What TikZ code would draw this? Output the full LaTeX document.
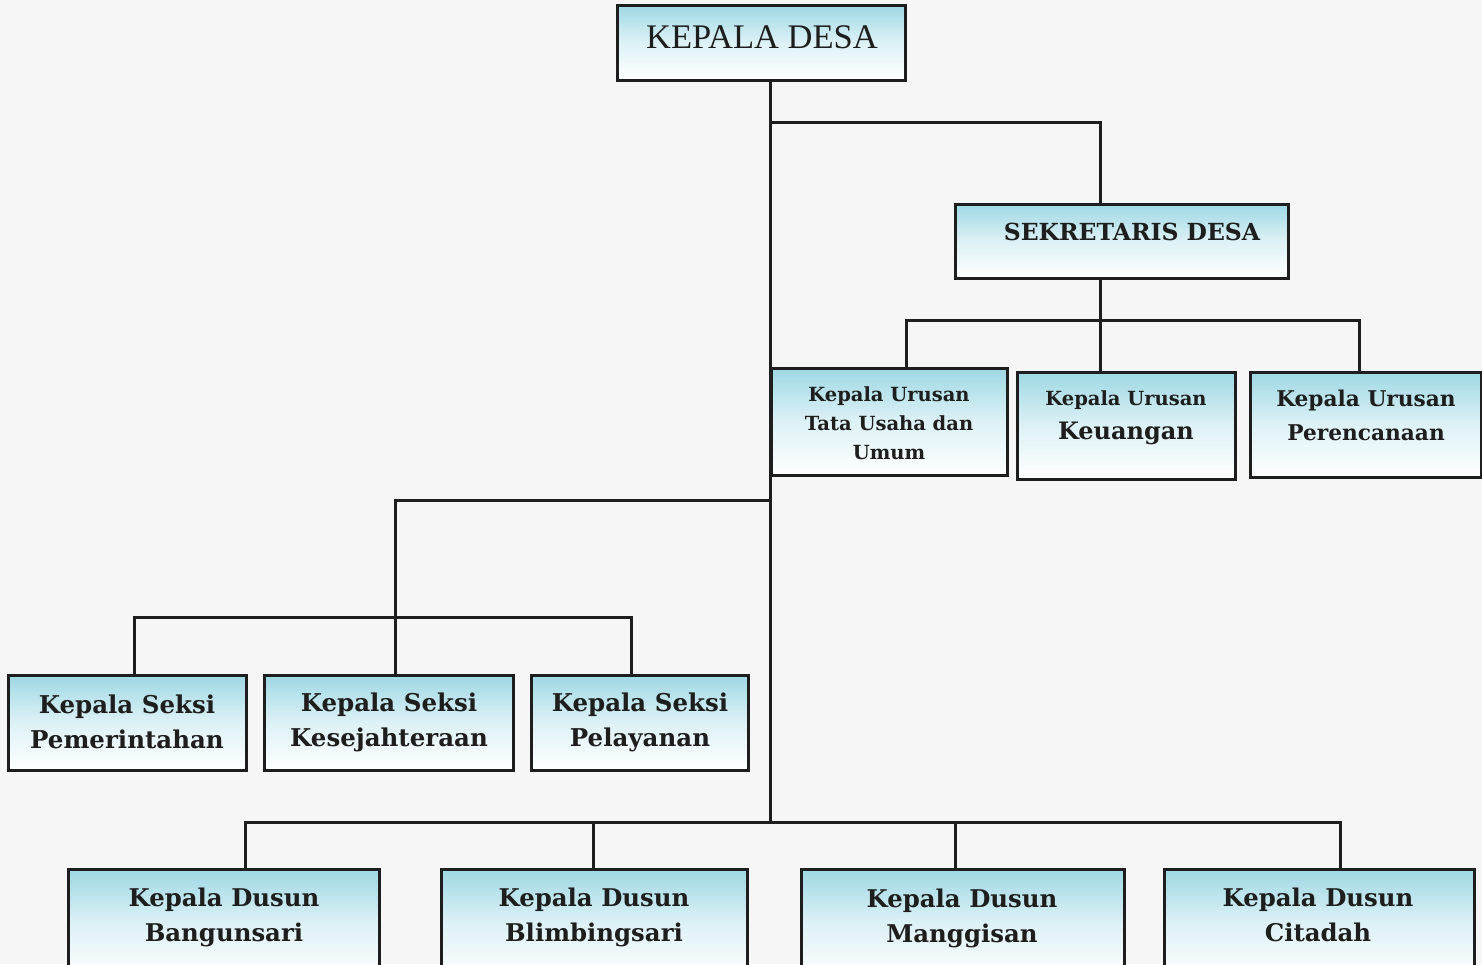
\documentclass[tikz,border=0pt]{standalone}
\usepackage{fontspec}
\setmainfont{DejaVu Serif}
\newfontfamily\tms{Liberation Serif}
\definecolor{paper}{RGB}{246,246,246}
\definecolor{boxcyan}{RGB}{158,216,228}
\definecolor{ink}{RGB}{30,30,30}
\begin{document}
\begin{tikzpicture}[x=1pt,y=-1pt,
  box/.style={draw=ink, line width=3pt, shade, top color=boxcyan, bottom color=white,
    middle color=boxcyan!35!white, inner sep=0pt},
  lbl/.style={inner sep=0pt, align=center, text=ink},
  conn/.style={draw=ink, line width=3pt, line join=miter}]
\useasboundingbox (0,0) rectangle (1482,964);
\fill[paper] (0,0) rectangle (1482,964);
\clip (0,0) rectangle (1482,964);

% boxes
\node[box, minimum width=288pt, minimum height=75pt] (kd) at (761,42.5) {};
\node[box, minimum width=333pt, minimum height=74pt] (sek) at (1121.5,241) {};
\node[box, minimum width=236pt, minimum height=107pt] (ut) at (889,421.5) {};
\node[box, minimum width=218pt, minimum height=107pt] (uk) at (1126,425.5) {};
\node[box, minimum width=231pt, minimum height=105pt] (up) at (1365.5,424.5) {};
\node[box, minimum width=238pt, minimum height=95pt] (sp) at (127,722.5) {};
\node[box, minimum width=249pt, minimum height=95pt] (sk) at (388.5,722.5) {};
\node[box, minimum width=217pt, minimum height=95pt] (sl) at (639.5,722.5) {};
\node[box, minimum width=311pt, minimum height=109pt] (db) at (223.5,923.5) {};
\node[box, minimum width=306pt, minimum height=109pt] (dbl) at (594,923.5) {};
\node[box, minimum width=323pt, minimum height=109pt] (dm) at (962.5,923.5) {};
\node[box, minimum width=310pt, minimum height=109pt] (dc) at (1319,923.5) {};

% labels
\node[lbl, font=\tms\fontsize{34.5}{36}\selectfont] (kdt) at (762,37) {KEPALA DESA};
\node[lbl, font=\bfseries\fontsize{23.5}{26}\selectfont] (sekt) at (1132,232) {SEKRETARIS DESA};
\node[lbl, font=\bfseries\fontsize{19.5}{29}\selectfont] (utt) at (889,423) {Kepala Urusan\\Tata Usaha dan\\Umum};
\node[lbl, font=\bfseries\fontsize{19.5}{34}\selectfont] (ukt) at (1126,418) {Kepala Urusan\\{\fontsize{24}{34}\selectfont Keuangan}};
\node[lbl, font=\bfseries\fontsize{21.7}{34}\selectfont] (upt) at (1366,415) {Kepala Urusan\\Perencanaan};
\node[lbl, font=\bfseries\fontsize{24.5}{35}\selectfont] (spt) at (127,722) {Kepala Seksi\\Pemerintahan};
\node[lbl, font=\bfseries\fontsize{24.5}{35}\selectfont] (skt) at (389,722) {Kepala Seksi\\Kesejahteraan};
\node[lbl, font=\bfseries\fontsize{24.5}{35}\selectfont] (slt) at (640,722) {Kepala Seksi\\Pelayanan};
\node[lbl, font=\bfseries\fontsize{24.4}{35}\selectfont] (dbt) at (224,917) {Kepala Dusun\\Bangunsari};
\node[lbl, font=\bfseries\fontsize{24.4}{35}\selectfont] (dblt) at (594,917) {Kepala Dusun\\Blimbingsari};
\node[lbl, font=\bfseries\fontsize{24.4}{35}\selectfont] (dmt) at (962,918) {Kepala Dusun\\Manggisan};
\node[lbl, font=\bfseries\fontsize{24.4}{35}\selectfont] (dct) at (1318,915) {Kepala Dusun\\Citadah};

% junction coordinates
\coordinate (j1) at (770,122);
\coordinate (j1r) at (1100,122);
\coordinate (su) at (1100,320);
\coordinate (sul) at (906,320);
\coordinate (sur) at (1359,320);
\coordinate (s2) at (770,500);
\coordinate (s2l) at (395,500);
\coordinate (s3l) at (134,617);
\coordinate (s3r) at (631,617);
\coordinate (d) at (770,822);
\coordinate (dl) at (245,822);
\coordinate (dr) at (1340,822);
\coordinate (d2) at (593,822);
\coordinate (d3) at (955,822);

% connectors
\draw[conn] (kd.south -| j1) -- (d);
\draw[conn] (j1) -| (j1r |- sek.north);
\draw[conn] (sek.south -| su) -- (su |- uk.north);
\draw[conn] (sul |- ut.north) |- (sur) -- (sur |- up.north);
\draw[conn] (s2) -- (s2l) -- (s2l |- sk.north);
\draw[conn] (s3l |- sp.north) |- (s3r) -- (s3r |- sl.north);
\draw[conn] (dl |- db.north) |- (dr) -- (dr |- dc.north);
\draw[conn] (d2) -- (d2 |- dbl.north);
\draw[conn] (d3) -- (d3 |- dm.north);
\end{tikzpicture}
\end{document}
